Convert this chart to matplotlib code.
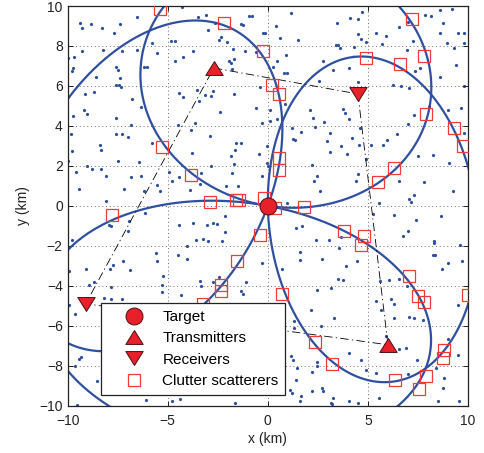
import numpy as np
import matplotlib
matplotlib.use('Agg')
import matplotlib.pyplot as plt
from matplotlib.lines import Line2D
from matplotlib.path import Path

plt.rcParams['font.family'] = ['Liberation Sans', 'DejaVu Sans']
plt.rcParams['axes.unicode_minus'] = True

# ---------------- data ----------------
target_x = [0.0]
target_y = [0.0]
tx_x = [-2.7, 6.0]
tx_y = [6.9, -6.95]
rx_x = [4.5, -9.1]
rx_y = [5.6, -4.9]
# bistatic pairs (transmitter index, receiver index)
pair_tx = [0, 1, 1, 0]
pair_rx = [0, 0, 1, 1]
# order of the dash-dot link path: Tx1 -> Rx1 -> Tx2 -> Rx2 -> Tx1
link_x = [tx_x[0], rx_x[0], tx_x[1], rx_x[1], tx_x[0]]
link_y = [tx_y[0], rx_y[0], tx_y[1], rx_y[1], tx_y[0]]

scat_x = [-5.4, -2.18, -0.25, 0.23, 0.57, -5.27, -3.85, -2.88, -1.57, -1.45,
          -0.2, -7.77, 7.22, 4.9, 6.62, 7.82, 7.9, 9.32, 9.73, 0.57,
          0.57, 6.32, 5.52, 1.82, 0.35, -0.37, -1.55, -2.32, -2.35, -3.25,
          3.82, 4.78, 4.65, 7.07, 7.48, 7.82, 10.0, 0.73, 2.37, 3.2,
          8.78, 8.73, 7.9, 6.37, 7.53]
scat_y = [9.85, 9.13, 7.76, 6.05, 5.58, 2.93, 1.52, 0.18, 0.3, 0.28,
          0.4, -0.48, 9.33, 7.38, 7.1, 7.5, 4.6, 3.92, 2.97, 2.38,
          1.8, 1.88, 1.17, -0.05, -0.12, -1.48, -2.78, -3.95, -4.28, -4.93,
          -1.28, -1.53, -1.98, -3.53, -4.5, -4.83, -4.45, -4.42, -6.83, -7.9,
          -7.2, -7.62, -8.53, -8.7, -9.15]

clutter_x = [
    -4.27, -3.47, -3.1, -0.93, -0.8, -9.4, -9.27, -8.82, -8.3, -7.38, -7.68, -6.55, -2.97, -2.65,
    -1.35, -1.22, -0.22, -0.12, -2.35, -2.43, -5.77, -4.85, -4.65, -3.72, -4.23, -4.63, -9.28, -8.25,
    -7.3, -9.98, -9.68, -9.72, -9.77, -5.52, -6.52, -2.02, -1.73, -1.68, -1.93, -1.85, -1.13, -1.77,
    -0.6, -6.18, -6.02, -7.57, -7.48, -8.6, -7.4, -7.42, -7.35, -7.6, -9.15, -8.68, -6.8, -6.32,
    -4.43, -4.22, -3.55, -3.13, -2.72, -2.82, -1.68, -0.38, -9.18, -9.02, -9.73, -7.57, -6.85, -4.47,
    -3.63, -3.85, -2.38, -0.6, 0.12, -0.27, -9.82, -7.57, -7.3, -7.0, -8.38, -8.35, -9.77, -5.8,
    -2.88, -1.57, -1.35, -1.63, -0.43, -0.02, -3.8, -1.85, -9.02, -8.77, -8.32, -7.48, -6.45, -2.82,
    -0.02, -1.68, -9.97, -9.6, -8.1, -6.85, -6.35, -4.93, -4.43, -3.35, -1.77, -5.52, -5.4, -6.18,
    -9.43, -7.18, -3.88, -2.07, -1.47, -8.1, -0.27, -3.43, 0.1, 0.87, -4.77, -3.38, 0.0,
    1.15, 4.68, 7.87, 8.15, 8.62, 9.18, 3.45, 4.1, 4.48, 0.4, 6.57, 6.98, 8.73, 9.48,
    9.78, 8.6, 5.4, 5.9, 4.48, 4.65, 4.9, 1.53, 0.62, 3.4, 3.52, 3.6, 4.32, 5.68,
    6.95, 7.23, 8.95, 9.28, 9.78, 0.9, 0.48, 2.77, 0.27, 0.82, 0.98, 3.28, 4.07, 7.37,
    7.62, 9.4, 8.62, 2.57, 4.48, 6.23, 6.65, 7.07, 9.82, 2.1, 3.73, 3.87, 4.07, 2.82,
    2.28, 2.35, 1.2, 0.45, 1.68, 7.28, 7.02, 8.98, 9.65, 9.82, 4.6, 3.1, 1.27, 1.37,
    2.98, 4.18, 4.53, 5.15, 5.73, 5.95, 6.45, 3.1, 3.95, 3.65, 8.23, 7.48, 9.07, 2.2,
    4.9, 4.48, 4.4, 2.48, 2.32, 6.57, 7.82, 2.62, 9.23, 7.28, 7.07, 7.15, 5.57, 0.98,
    -7.85, -7.95, -6.93, -6.15, -4.43, -3.72, -3.02, -2.73, -2.52, -2.13, -2.15, -3.6, -3.22, -2.97,
    -2.27, -4.02, -4.48, -4.02, -5.57, -5.52, -6.97, -6.9, -7.23, -7.88, -7.72, -9.1, -9.8, -9.93,
    -8.93, -8.68, -7.82, -7.82, -7.3, -5.22, -5.27, -3.38, -3.35, -2.73, -2.43, -1.35, -1.22, -1.1,
    -0.27, -9.63, -9.43, -9.32, -9.65, -8.55, -6.07, -4.77, -4.38, -1.65, -9.55,
    -9.92, -5.28, -4.33, -8.17,
    5.23, 6.32, 7.4, 8.65, 6.98, 6.73, 8.28, 8.32, 9.62, 1.4, 1.73, 2.4, 3.07, 3.65,
    1.62, 1.62, 2.7, 3.57, 4.45, 3.9, 8.23, 8.35, 8.98, 9.7, 8.7, 5.62, 6.07, 6.57,
    6.93, 3.52, 3.73, 2.48, 3.15, 0.73, 5.4, 6.15, 6.28, 5.65, 7.07, 7.32, 7.73, 6.32,
    9.48, 2.15, 3.32, 2.65, 1.32, 1.32, 1.18, 1.27, 2.45, 2.48, 2.23, 4.07, 4.65, 4.9,
    5.4, 5.9, 6.57, 6.9, 7.43, 6.98, 8.4, 9.02, 9.48, 8.82, 1.12, 1.22, 2.23, 2.7,
    1.65, 1.62, 3.18, 4.07, 4.48, 5.57, 8.48, 9.57, 8.73, 3.25, 2.75, 3.22, 1.45, 1.42]
clutter_y = [
    9.93, 9.47, 9.55, 9.5, 9.5, 9.13, 8.88, 9.08, 8.88, 9.08, 8.63, 9.43, 8.8, 9.13,
    9.1, 9.05, 8.63, 8.63, 8.47, 8.3, 8.17, 8.27, 8.27, 7.75, 7.47, 7.27, 7.77, 7.8,
    7.77, 7.38, 7.43, 6.88, 6.75, 7.67, 7.8, 8.22, 7.85, 7.33, 7.25, 7.13, 7.77, 6.85,
    7.72, 6.97, 6.97, 6.97, 6.8, 6.47, 6.38, 6.05, 5.93, 6.05, 5.58, 5.72, 5.35, 4.97,
    5.67, 5.47, 5.8, 5.55, 5.75, 5.5, 5.58, 5.93, 4.8, 4.58, 4.5, 4.38, 4.05, 4.05,
    4.13, 3.8, 4.72, 4.92, 4.8, 4.17, 3.58, 3.58, 3.58, 3.47, 3.05, 2.8, 2.72, 3.13,
    3.5, 3.13, 3.13, 2.8, 2.6, 2.97, 2.63, 2.47, 1.97, 1.83, 1.83, 2.22, 2.18, 1.97,
    2.13, 2.1, 2.22, 1.68, 1.47, 1.43, 1.47, 1.67, 1.42, 1.63, 1.63, 1.02, 0.75, 0.72,
    0.83, 0.83, 0.8, 1.0, 1.0, 0.22, 1.47, 5.27, 4.27, 5.1, 1.22, 1.1, 1.97,
    9.67, 9.72, 9.55, 9.5, 9.8, 9.85, 9.13, 9.38, 9.33, 9.0, 8.97, 9.22, 9.13, 8.63,
    8.63, 8.63, 8.63, 8.52, 8.58, 8.33, 8.18, 8.3, 8.38, 8.05, 8.05, 7.88, 7.93, 8.08,
    7.8, 8.27, 8.13, 7.92, 8.13, 7.55, 7.25, 7.25, 6.97, 6.67, 6.67, 6.8, 6.88, 6.75,
    6.88, 7.05, 6.43, 6.27, 6.22, 6.05, 6.0, 5.88, 6.0, 4.8, 4.83, 4.63, 4.33, 4.22,
    4.38, 3.97, 3.88, 4.33, 3.72, 4.55, 4.08, 4.8, 4.88, 3.67, 3.88, 3.63, 3.33, 3.3,
    3.22, 3.38, 3.02, 3.02, 3.05, 3.27, 3.58, 2.67, 2.6, 2.97, 2.55, 2.47, 2.13, 2.05,
    2.33, 1.58, 1.25, 1.47, 1.25, 1.22, 1.17, 0.75, 0.72, 0.55, 0.35, 0.18, 0.13, 0.13,
    -1.03, -0.95, -0.78, -0.37, -0.95, -0.87, -0.95, -0.87, -0.9, -0.53, -1.33, -1.7, -1.67, -1.75,
    -1.75, -2.03, -2.45, -2.65, -2.37, -2.78, -1.28, -3.23, -2.78, -3.17, -2.95, -3.15, -1.7, -3.28,
    -3.95, -3.82, -4.07, -4.67, -4.67, -3.53, -3.95, -3.78, -4.0, -3.83, -3.58, -4.28, -4.4, -3.83,
    -2.87, -5.42, -7.67, -7.57, -8.03, -8.78, -9.7, -9.78, -9.67, -9.87, -9.95,
    -4.95, -4.33, -4.45, -4.6,
    -0.4, -0.45, -0.7, -0.53, -1.28, -1.5, -1.78, -1.85, -1.95, -1.12, -1.03, -1.7, -1.73, -1.57,
    -2.33, -2.7, -2.67, -2.12, -2.75, -3.0, -2.45, -2.48, -2.87, -2.78, -3.17, -3.78, -3.73, -3.65,
    -4.03, -3.67, -3.73, -4.2, -4.12, -3.15, -4.78, -4.67, -4.9, -5.2, -5.57, -5.62, -5.73, -5.62,
    -4.95, -5.2, -5.62, -6.0, -5.78, -6.12, -7.5, -7.7, -7.83, -8.03, -8.33, -7.37, -7.7, -8.2,
    -8.37, -6.53, -7.17, -7.12, -7.73, -8.4, -8.12, -6.67, -7.45, -8.62, -9.2, -9.35, -9.28, -9.12,
    -9.53, -9.78, -9.87, -9.78, -9.87, -9.62, -9.78, -9.78, -9.1, -9.62, -9.25, -9.9, -8.1, -8.7]

xticks = [-10, -5, 0, 5, 10]
yticks = [-10, -8, -6, -4, -2, 0, 2, 4, 6, 8, 10]
legend_labels = ['Target', 'Transmitters', 'Receivers', 'Clutter scatterers']

# ---------------- style ----------------
BLUE = '#2f4f9f'
RED = '#e8202a'
SQ = '#f03a3a'
EDGE = '#4a1010'

def bistatic_ellipse(f1, f2, p, n=1500):
    f1, f2, p = (np.asarray(v, dtype=float) for v in (f1, f2, p))
    s = np.linalg.norm(p - f1) + np.linalg.norm(p - f2)
    a = s / 2.0
    c = np.linalg.norm(f2 - f1) / 2.0
    b = np.sqrt(a * a - c * c)
    ctr = (f1 + f2) / 2.0
    u = (f2 - f1) / (2.0 * c)
    v = np.array([-u[1], u[0]])
    t = np.linspace(0, 2 * np.pi, n)
    pts = ctr[:, None] + a * np.cos(t) * u[:, None] + b * np.sin(t) * v[:, None]
    return pts[0], pts[1]

tri_up = Path([(-1, -0.8), (1, -0.8), (0, 0.8), (-1, -0.8)],
              [Path.MOVETO, Path.LINETO, Path.LINETO, Path.CLOSEPOLY])
tri_dn = Path([(-1, 0.8), (1, 0.8), (0, -0.8), (-1, 0.8)],
              [Path.MOVETO, Path.LINETO, Path.LINETO, Path.CLOSEPOLY])

W, H = 484, 453
fig = plt.figure(figsize=(W / 100, H / 100), dpi=100)
ax = fig.add_axes([67.7 / W, (H - 405.7) / H, 400.3 / W, 399.7 / H])

ax.plot(clutter_x, clutter_y, linestyle='none', marker='o', ms=2.3,
        mfc=BLUE, mec='none', zorder=1.5)

for ti, ri in zip(pair_tx, pair_rx):
    ex, ey = bistatic_ellipse((tx_x[ti], tx_y[ti]), (rx_x[ri], rx_y[ri]),
                              (target_x[0], target_y[0]))
    ax.plot(ex, ey, color=BLUE, lw=1.6, zorder=2)

ax.plot(link_x, link_y, color='k', lw=0.6, linestyle=(0, (10, 4, 1.5, 4)), zorder=2.5)

ax.plot(scat_x, scat_y, linestyle='none', marker='s', ms=8.9, mfc='none',
        mec=SQ, mew=0.9, zorder=3)
ax.plot(tx_x, tx_y, linestyle='none', marker=tri_up, ms=12.5, mfc=RED,
        mec=EDGE, mew=0.7, zorder=4)
ax.plot(rx_x, rx_y, linestyle='none', marker=tri_dn, ms=12.5, mfc=RED,
        mec=EDGE, mew=0.7, zorder=4)
ax.plot(target_x, target_y, linestyle='none', marker='o', ms=12.2, mfc=RED,
        mec=EDGE, mew=0.7, zorder=4)

ax.set_xlim(-10, 10)
ax.set_ylim(-10, 10)
ax.set_xticks(xticks)
ax.set_yticks(yticks)
ax.grid(True, linestyle=(0, (1.2, 3.3)), color='0.35', linewidth=0.6)
ax.tick_params(direction='in', top=True, right=True, length=3.5, width=0.7,
               labelsize=10, colors='#222222')
ax.tick_params(axis='x', pad=6)
ax.tick_params(axis='y', pad=3.5)
for sp in ax.spines.values():
    sp.set_linewidth(0.9)
    sp.set_color('#222222')
ax.set_xlabel('x (km)', fontsize=10, labelpad=3, color='#222222')
ax.set_ylabel('y (km)', fontsize=10, labelpad=7, color='#222222')

handles = [
    Line2D([], [], linestyle='none', marker='o', ms=12.2, mfc=RED, mec=EDGE, mew=0.7),
    Line2D([], [], linestyle='none', marker=tri_up, ms=12.5, mfc=RED, mec=EDGE, mew=0.7),
    Line2D([], [], linestyle='none', marker=tri_dn, ms=12.5, mfc=RED, mec=EDGE, mew=0.7),
    Line2D([], [], linestyle='none', marker='s', ms=8.9, mfc='none', mec=SQ, mew=0.9),
]
leg = ax.legend(handles, legend_labels, loc='lower left',
                bbox_to_anchor=(0.084, 0.027), borderaxespad=0, fontsize=11,
                frameon=True, fancybox=False, framealpha=1, edgecolor='#222222',
                borderpad=0.45, handlelength=3.42, handletextpad=0.12,
                labelspacing=0.48)
leg.get_frame().set_linewidth(0.9)
leg.set_zorder(6)

fig.savefig('out.png', dpi=100)
